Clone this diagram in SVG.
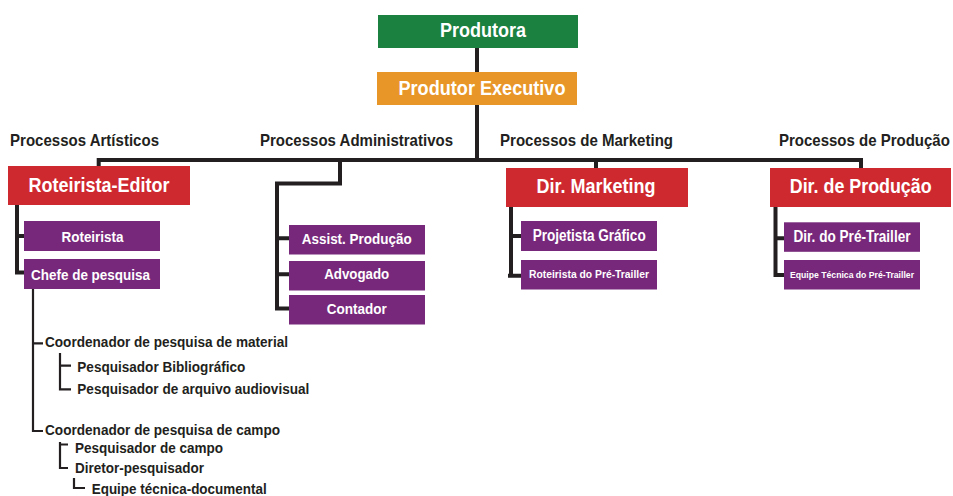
<svg xmlns="http://www.w3.org/2000/svg" width="953" height="496" viewBox="0 0 953 496">
<style>
text{font-family:"Liberation Sans",Arial,sans-serif;font-weight:bold}
.w{fill:#ffffff;text-anchor:middle}
.k{fill:#231f20}
.green{fill:#1b8140}
.orange{fill:#e89627}
.red{fill:#cf2930}
.purple{fill:#77287b}
.c4{fill:none;stroke:#231f20;stroke-width:4}
.c2{fill:none;stroke:#231f20;stroke-width:2.2}
</style>
<rect width="953" height="496" fill="#ffffff"/>
<g id="connectors">
<path class="c4" d="M477,48 V160 M98.7,166 V160 H861 V168 M596,160 V168"/>
<path class="c4" d="M340,160 V183.5 H277 V308.5 H289 M277,238.3 H289 M277,274.3 H289"/>
<path class="c4" d="M17,205 V272.5 H24 M17,236 H24"/>
<path class="c4" d="M511,207 V275.7 M508,275.7 H521 M511,236 H521"/>
<path class="c4" d="M775.5,207 V275 H784 M775.5,238.3 H784"/>
<path class="c2" d="M33,289 V431 H43 M33,343.3 H43"/>
<path class="c2" d="M60,353 V389.3 H71 M60,365.7 H71"/>
<path class="c2" d="M60,442 V468 H68 M60,444.5 H68"/>
<path class="c2" d="M74,478 V488 H85"/>
</g>
<g id="produtora"><rect class="green" x="378" y="15" width="200" height="33"/><text class="w" x="483" y="37" font-size="20" textLength="86" lengthAdjust="spacingAndGlyphs">Produtora</text></g>
<g id="produtor-executivo"><rect class="orange" x="377" y="72" width="200" height="33"/><text class="w" x="482" y="94.5" font-size="20" textLength="167" lengthAdjust="spacingAndGlyphs">Produtor Executivo</text></g>
<g id="labels">
<text class="k" x="10" y="146" font-size="17" textLength="149" lengthAdjust="spacingAndGlyphs">Processos Artísticos</text>
<text class="k" x="260" y="146" font-size="17" textLength="193" lengthAdjust="spacingAndGlyphs">Processos Administrativos</text>
<text class="k" x="500" y="146" font-size="17" textLength="173" lengthAdjust="spacingAndGlyphs">Processos de Marketing</text>
<text class="k" x="0" y="0" font-size="17" transform="translate(779,146) scale(0.883,1)">Processos de Produção</text>
</g>
<g id="roteirista-editor"><rect class="red" x="8" y="166" width="182" height="39"/><text class="w" x="99" y="191.5" font-size="21" textLength="141" lengthAdjust="spacingAndGlyphs">Roteirista-Editor</text></g>
<g id="dir-marketing"><rect class="red" x="506" y="168" width="182" height="39"/><text class="w" x="596" y="193" font-size="21" textLength="119" lengthAdjust="spacingAndGlyphs">Dir. Marketing</text></g>
<g id="dir-producao"><rect class="red" x="770" y="168" width="181" height="39"/><text class="w" x="0" y="0" font-size="21" transform="translate(860.7,193) scale(0.851,1)">Dir. de Produção</text></g>
<g id="roteirista"><rect class="purple" x="24" y="221" width="136" height="30"/><text class="w" x="92.5" y="242.3" font-size="15" textLength="62" lengthAdjust="spacingAndGlyphs">Roteirista</text></g>
<g id="chefe-de-pesquisa"><rect class="purple" x="24" y="259" width="136" height="30"/><text class="w" x="90.5" y="280" font-size="15" textLength="119" lengthAdjust="spacingAndGlyphs">Chefe de pesquisa</text></g>
<g id="assist-producao"><rect class="purple" x="289" y="225" width="136" height="29.5"/><text class="w" x="356.7" y="244.3" font-size="15" textLength="110" lengthAdjust="spacingAndGlyphs">Assist. Produção</text></g>
<g id="advogado"><rect class="purple" x="289" y="261" width="136" height="29.5"/><text class="w" x="356.7" y="279.3" font-size="15" textLength="65" lengthAdjust="spacingAndGlyphs">Advogado</text></g>
<g id="contador"><rect class="purple" x="289" y="295" width="136" height="29.5"/><text class="w" x="356.7" y="314.3" font-size="15" textLength="60" lengthAdjust="spacingAndGlyphs">Contador</text></g>
<g id="projetista-grafico"><rect class="purple" x="521" y="221" width="136" height="30"/><text class="w" x="589.2" y="240.7" font-size="16" textLength="113" lengthAdjust="spacingAndGlyphs">Projetista Gráfico</text></g>
<g id="roteirista-pre-trailler"><rect class="purple" x="521" y="260" width="136" height="29.5"/><text class="w" x="589" y="278.3" font-size="11.5" textLength="120" lengthAdjust="spacingAndGlyphs">Roteirista do Pré-Trailler</text></g>
<g id="dir-pre-trailler"><rect class="purple" x="784" y="222.3" width="136" height="29.5"/><text class="w" x="852" y="241.7" font-size="16" textLength="117" lengthAdjust="spacingAndGlyphs">Dir. do Pré-Trailler</text></g>
<g id="equipe-tecnica-pre-trailler"><rect class="purple" x="784" y="260" width="136" height="29.5"/><text class="w" x="852" y="277.7" font-size="9.5" textLength="124" lengthAdjust="spacingAndGlyphs">Equipe Técnica do Pré-Trailler</text></g>
<g id="pesquisa-tree">
<text class="k" x="45" y="347.3" font-size="14.5" textLength="243" lengthAdjust="spacingAndGlyphs">Coordenador de pesquisa de material</text>
<text class="k" x="77.3" y="371.7" font-size="14.5" textLength="168" lengthAdjust="spacingAndGlyphs">Pesquisador Bibliográfico</text>
<text class="k" x="77.3" y="394" font-size="14.5" textLength="232" lengthAdjust="spacingAndGlyphs">Pesquisador de arquivo audiovisual</text>
<text class="k" x="45" y="435" font-size="14.5" textLength="235" lengthAdjust="spacingAndGlyphs">Coordenador de pesquisa de campo</text>
<text class="k" x="75" y="453.3" font-size="14.5" textLength="148" lengthAdjust="spacingAndGlyphs">Pesquisador de campo</text>
<text class="k" x="75" y="473.3" font-size="14.5" textLength="129" lengthAdjust="spacingAndGlyphs">Diretor-pesquisador</text>
<text class="k" x="91.7" y="494" font-size="14.5" textLength="175" lengthAdjust="spacingAndGlyphs">Equipe técnica-documental</text>
</g>
</svg>
